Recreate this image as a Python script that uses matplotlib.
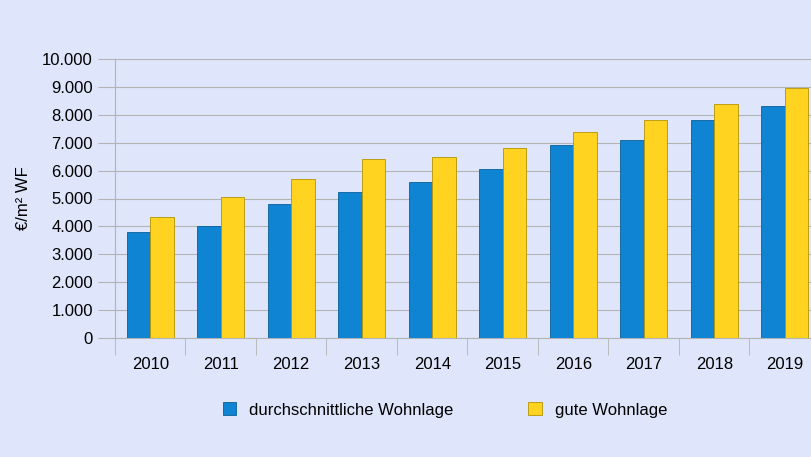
import matplotlib
matplotlib.use("Agg")
import matplotlib.pyplot as plt
import numpy as np

years = ["2010","2011","2012","2013","2014","2015","2016","2017","2018","2019"]
durchschnitt = [3800, 4000, 4800, 5250, 5600, 6050, 6900, 7100, 7800, 8300]
gute = [4350, 5050, 5700, 6400, 6500, 6800, 7400, 7800, 8400, 8950]
yticks = [0,1000,2000,3000,4000,5000,6000,7000,8000,9000,10000]
ylabels = ["0","1.000","2.000","3.000","4.000","5.000","6.000","7.000","8.000","9.000","10.000"]

plt.rcParams["font.family"] = "Liberation Sans"
bg = "#dfe6fb"
fig = plt.figure(figsize=(8.12, 4.57), dpi=100, facecolor=bg)
ax = fig.add_axes([115/812, 1-338/457, 705/812, (338-59)/457], facecolor=bg)
x = np.arange(len(years))
w = 0.33
ax.bar(x - w/2, durchschnitt, w, color="#0e84d2", edgecolor="#0a5f99", linewidth=0.6,
       label="durchschnittliche Wohnlage", zorder=3)
ax.bar(x + w/2, gute, w, color="#ffd320", edgecolor="#b39400", linewidth=0.6,
       label="gute Wohnlage", zorder=3)
ax.set_xlim(-0.5, len(years) - 0.5)
ax.set_ylim(0, 10000)
ax.set_yticks(yticks)
ax.set_yticklabels(ylabels, fontsize=12)
ax.set_xticks(x)
ax.set_xticklabels(years, fontsize=12)
ax.tick_params(axis="x", length=0, pad=14)
ax.tick_params(axis="y", length=12, color="#b3b3b3", pad=4)
ax.set_xticks(np.arange(-0.5, len(years)), minor=True)
ax.tick_params(axis="x", which="minor", length=12, color="#b3b3b3")
ax.yaxis.grid(True, color="#b3b3b3", linewidth=0.8, zorder=0)
for s in ["top", "right"]:
    ax.spines[s].set_visible(False)
ax.spines["left"].set_color("#b3b3b3")
ax.spines["bottom"].set_color("#b3b3b3")
ax.set_ylabel("€/m² WF", fontsize=12, labelpad=8)
fig.legend(loc="center", bbox_to_anchor=(445/812, 1-410/457), ncol=2, frameon=False,
           fontsize=12, columnspacing=4.5, handlelength=0.8, handleheight=0.8)
fig.savefig("out.png", dpi=100, facecolor=bg)
